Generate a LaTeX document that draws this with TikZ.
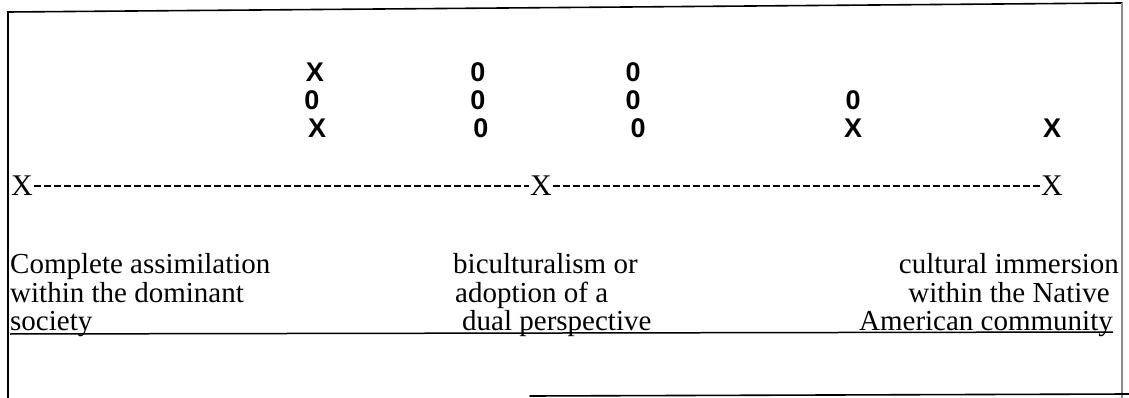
\documentclass[tikz,border=0pt]{standalone}
\usepackage{fontspec}
\setmainfont{Liberation Serif}
\newfontfamily\marksf{Liberation Sans}
\begin{document}
\begin{tikzpicture}[x=1pt,y=-1pt,
  lbl/.style={inner sep=0pt, font=\fontsize{29}{29}\selectfont, anchor=base west},
  lblr/.style={lbl, anchor=base east},
  tally/.style={inner sep=0pt, font=\marksf\bfseries\fontsize{27}{27}\selectfont},
  axisx/.style={inner sep=0.8pt, font=\fontsize{30}{30}\selectfont},
  frame/.style={line width=1.6pt, line cap=round},
  faint/.style={line width=1.2pt, black!45},
  dashline/.style={line width=1.6pt, dash pattern=on 7pt off 3pt},
  rule/.style={line width=1.5pt}
]
\useasboundingbox (0,0) rectangle (1129,398);
% frame
\draw[frame] (8,398) -- (8,12) -- (1122,3);
\draw[faint] (1122,3) -- (1122,398);
\draw[frame] (530,396) -- (1129,394);
% tallies
\node[tally] (t11) at (315,72) {X};
\node[tally] (t12) at (312,100) {0};
\node[tally] (t13) at (317,128) {X};
\node[tally] (t21) at (478,72) {0};
\node[tally] (t22) at (478,100) {0};
\node[tally] (t23) at (481,128) {0};
\node[tally] (t31) at (633,72) {0};
\node[tally] (t32) at (633,100) {0};
\node[tally] (t33) at (638,128) {0};
\node[tally] (t42) at (853,100) {0};
\node[tally] (t43) at (853,128) {X};
\node[tally] (t53) at (1052,128) {X};
% axis
\node[axisx] (xl) at (22,186) {X};
\node[axisx] (xm) at (541,186) {X};
\node[axisx] (xr) at (1052,186) {X};
\draw[dashline] (xl.east) -- (xm.west);
\draw[dashline] (xm.east) -- (xr.west);
% labels
\node[lbl] (a1) at (10,273) {Complete assimilation};
\node[lbl] (a2) at (10,302) {within the dominant};
\node[lbl] (a3) at (10,330) {society};
\node[lbl] (b1) at (453,273) {biculturalism or};
\node[lbl] (b2) at (455,302) {adoption of a};
\node[lbl] (b3) at (462,330) {dual perspective};
\node[lblr] (c1) at (1119,273) {cultural immersion};
\node[lblr] (c2) at (1110,302) {within the Native};
\node[lblr] (c3) at (1113,330) {American community};
\draw[rule] (10,334) -- (1113,332);
\end{tikzpicture}
\end{document}
